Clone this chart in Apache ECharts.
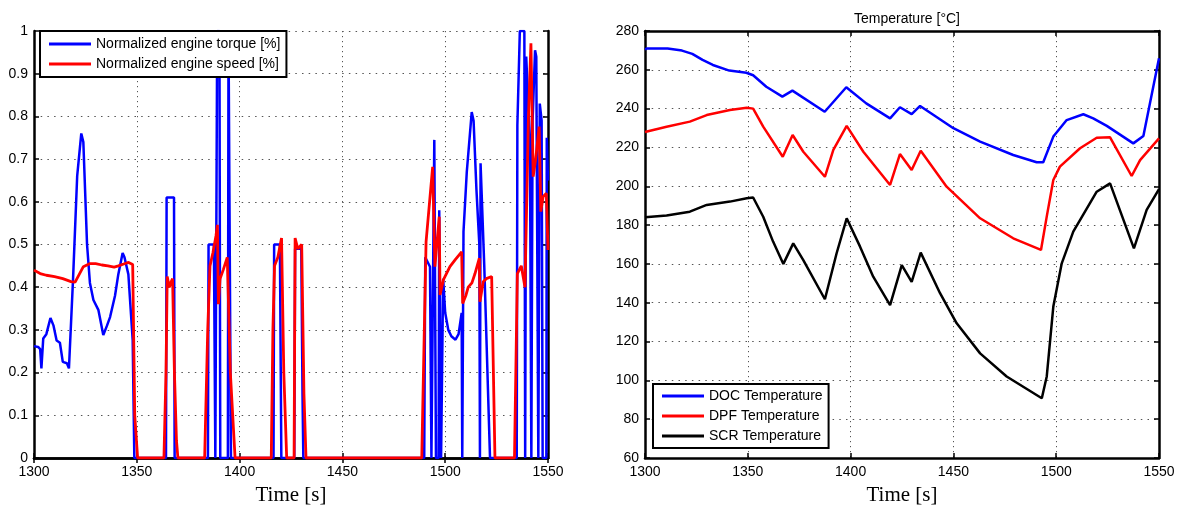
<!DOCTYPE html>
<html>
<head>
<meta charset="utf-8">
<script src="https://cdn.jsdelivr.net/npm/echarts@6/dist/echarts.min.js"></script>
<style>html,body{margin:0;padding:0;background:#fff}#c{width:1183px;height:508px}</style>
</head>
<body>
<div id="c"></div>
<script>
// ---- Left chart data ----
const torqueT = [1300,1302,1303,1303.6,1304.5,1306,1308,1309.5,1311,1312.6,1314,1316,1317,1319,1321,1323,1324,1325.8,1327.2,1328.9,1331.3,1333.7,1335.5,1337,1339.4,1341,1343.1,1344,1345.9,1348,1348.8,
 1364.2,1364.5,1368.1,1368.4,1384.6,1384.9,1387.5,1388.2,1388.7,1389.1,1390.2,1390.6,1394.3,1394.6,1395.4,1395.8,
 1416.5,1416.8,1419.6,1420.3,1426.6,1427,1430,1430.6,1431,
 1489.8,1490.3,1491.2,1492.6,1493.3,1494.2,1494.7,1495.5,1496.8,1497.1,1498,1498.6,1499,1500,1501.5,1503,1505,1506.5,1508,1508.3,1508.6,1508.9,1510.5,1512.9,1513.8,1515.2,1516.6,1516.9,1517.2,1519,1521.8,
 1534.8,1535.1,1536.3,1538.5,1538.9,1539.4,1540.5,1541.2,1541.9,1542.5,1543.7,1544.3,1545.3,1546,1546.9,1547.4,1549.2,1549.4,1550];
const torqueV = [0.262,0.26,0.255,0.21,0.28,0.29,0.328,0.31,0.275,0.27,0.225,0.222,0.21,0.42,0.66,0.76,0.74,0.5,0.41,0.37,0.347,0.288,0.31,0.33,0.38,0.43,0.48,0.47,0.43,0.276,0,
 0,0.61,0.61,0,0,0.5,0.5,0,0,1.0,1.0,0,0,1.0,1.0,0,
 0,0.5,0.5,0,0,0.49,0.49,0.15,0,
 0,0.47,0.47,0.448,0,0,0.745,0,0,0.58,0,0,0.42,0.34,0.3,0.285,0.277,0.29,0.34,0,0,0.53,0.67,0.81,0.79,0.628,0.5,0,0.69,0.45,0,
 0,0.78,1.0,1.0,0,0.94,0.82,0.75,0,0.79,0.955,0.94,0,0.83,0.79,0,0,0.75,0.65];
const speedT = [1300,1303,1306,1310,1314,1318,1320,1322,1324,1327,1330,1333,1336,1339,1341,1344,1346,1348,1349,1350.4,
 1363.2,1364.2,1364.8,1365.8,1366.5,1367.4,1368.3,1369.3,1370,
 1383,1384.5,1385.6,1387,1388.5,1389.2,1389.7,1390.5,1392,1394,1395.5,1397.8,
 1415.4,1416.2,1417,1418.6,1420.4,1421.5,1422.9,1426.5,1427,1428.3,1430.2,1431.3,1432.3,
 1488.6,1490.7,1493.9,1495,1497.1,1497.5,1499.1,1502.3,1505,1508,1508.5,1510,1511.2,1513,1514.5,1516.6,1516.9,1518.5,1520,1522.6,1524.2,
 1533.7,1535.1,1537,1538.8,1540.5,1541.7,1542.8,1544,1545.7,1546.5,1547.6,1549.2,1550];
const speedV = [0.44,0.432,0.428,0.425,0.42,0.413,0.412,0.43,0.448,0.455,0.455,0.452,0.45,0.447,0.45,0.455,0.458,0.453,0.1,0,
 0,0.2,0.425,0.4,0.41,0.42,0.2,0.04,0,
 0,0.3,0.45,0.48,0.52,0.546,0.36,0.42,0.44,0.47,0.2,0,
 0,0.3,0.45,0.47,0.515,0.2,0,0,0.515,0.49,0.5,0.15,0,
 0,0.507,0.682,0.448,0.565,0.382,0.417,0.448,0.465,0.483,0.362,0.38,0.40,0.41,0.432,0.468,0.366,0.413,0.42,0.425,0,
 0,0.432,0.45,0.40,0.8,0.971,0.659,0.7,0.776,0.577,0.612,0.62,0.487];

// ---- Right chart data ----
const docT = [1300,1301,1311,1318,1323,1328,1333,1341,1349.3,1352.6,1359,1366.8,1371.7,1387.4,1397.9,1407.6,1419.2,1424,1429.7,1433.8,1450,1463,1479.1,1490.5,1493.7,1498.6,1505.1,1513.2,1518,1524.6,1537.5,1542.4,1550];
const docV = [270.5,271,271,269.9,268.2,265.1,262.5,259.6,258.5,257.2,251.3,246.2,249.3,238.4,251.0,242.7,235,240.7,237.2,241.4,229.9,223,216.1,212.4,212.4,225.6,234.1,237.1,235,231.1,222.1,225.9,266];
const dpfT = [1300,1310.5,1321.8,1330,1341.3,1349.5,1352.6,1357.5,1367,1371.8,1377,1387.5,1391.6,1398.1,1406.2,1419.2,1424,1429.7,1434.1,1446.7,1463,1479.1,1492.6,1495.5,1498.6,1501.8,1511.6,1519.7,1526.2,1536.7,1540.8,1550];
const dpfV = [228,230.7,233.3,236.7,239.3,240.5,240,230.7,215.2,226.4,217.8,204.9,218.7,231.1,217.8,200.7,216.6,208.4,218.3,199.8,183.5,173.2,167.2,185,203.2,210.1,219.6,225.0,225.2,205.3,213.5,224.7];
const scrT = [1300,1310.5,1321.8,1330,1341.3,1349.5,1352.6,1357.5,1362.3,1367.3,1372.1,1377,1387.5,1393.2,1398.1,1404.6,1411,1419.2,1424.9,1429.7,1434.1,1443.5,1451.6,1463,1475.9,1493,1495.4,1498.6,1502.7,1508.3,1519.7,1526.2,1537.8,1544,1550];
const scrV = [184,184.9,186.9,190.4,192.1,193.8,194.2,184.3,171.5,160,170.6,162,141.8,165.5,183.5,168.9,153.4,138.8,159.4,150.8,165.8,144.9,129.4,113.9,102,90.8,102,138,160.3,176.6,197.2,201.5,168,187.8,198.5];

const xTicks = {min: 1300, max: 1550, interval: 50};
const leftY = {min: 0, max: 1, interval: 0.1};
const rightY = {min: 60, max: 280, interval: 20};

const zip = (a, b) => a.map((t, i) => [t, b[i]]);

const SANS = 'Liberation Sans';
const labelStyle = {fontSize: 14, fontFamily: SANS, color: '#000'};
const hDots = {color: '#555', width: 1, type: [1.5, 5.2]};
const vDots = {color: '#555', width: 1, type: [1.2, 3.8]};
const fmt = v => String(parseFloat(Number(v).toFixed(2)));

function xAxes(gi) {
  return [{
    type: 'value', gridIndex: gi, position: 'bottom', ...xTicks,
    axisLine: {lineStyle: {color: '#000', width: 2.5}},
    axisTick: {inside: true, length: 5, lineStyle: {color: '#000', width: 1.5}},
    axisLabel: {...labelStyle, margin: 7, formatter: fmt},
    splitLine: {show: true, lineStyle: vDots},
    name: 'Time [s]', nameLocation: 'middle', nameGap: 27,
    nameTextStyle: {fontFamily: 'Liberation Serif', fontSize: 21, color: '#000'}
  }, {
    type: 'value', gridIndex: gi, position: 'top', ...xTicks,
    axisLine: {lineStyle: {color: '#000', width: 2.5}},
    axisTick: {inside: true, length: 5, lineStyle: {color: '#000', width: 1.5}},
    axisLabel: {show: false}, splitLine: {show: false}
  }];
}
function yAxes(gi, rng) {
  return [{
    type: 'value', gridIndex: gi, position: 'left', ...rng,
    axisLine: {show: true, lineStyle: {color: '#000', width: 2.5}},
    axisTick: {show: true, inside: true, length: 5, lineStyle: {color: '#000', width: 1.5}},
    axisLabel: {...labelStyle, margin: 6, formatter: fmt},
    splitLine: {show: true, lineStyle: hDots}
  }, {
    type: 'value', gridIndex: gi, position: 'right', ...rng,
    axisLine: {show: true, lineStyle: {color: '#000', width: 2.5}},
    axisTick: {show: true, inside: true, length: 5, lineStyle: {color: '#000', width: 1.5}},
    axisLabel: {show: false}, splitLine: {show: false}
  }];
}

function line(name, data, color, xi, yi, w) {
  return {name, type: 'line', data, xAxisIndex: xi, yAxisIndex: yi,
    showSymbol: false, symbol: 'none', lineStyle: {color, width: w}, itemStyle: {color},
    animation: false, clip: true};
}

const legendCommon = {
  orient: 'vertical', icon: 'rect', itemWidth: 42, itemHeight: 3, itemGap: 6,
  borderColor: '#000', borderWidth: 2, backgroundColor: '#fff', borderRadius: 0,
  textStyle: {fontSize: 14, fontFamily: SANS, color: '#000'}, selectedMode: false
};

const chart = echarts.init(document.getElementById('c'), null, {renderer: 'canvas'});
chart.setOption({
  backgroundColor: '#fff',
  animation: false,
  title: {text: 'Temperature [°C]', left: 902, top: 7, textAlign: 'center',
    textStyle: {fontSize: 14, fontWeight: 'normal', fontFamily: SANS, color: '#000'}},
  grid: [
    {left: 34, top: 31, width: 514, height: 427, outerBoundsMode: 'none', containLabel: false},
    {left: 645, top: 31, width: 514, height: 427, outerBoundsMode: 'none', containLabel: false}
  ],
  xAxis: [...xAxes(0), ...xAxes(1)],
  yAxis: [...yAxes(0, leftY), ...yAxes(1, rightY)],
  legend: [
    {...legendCommon, left: 40, top: 31, padding: [6, 6, 6, 9],
      data: ['Normalized engine torque [%]', 'Normalized engine speed [%]']},
    {...legendCommon, left: 653, top: 384, padding: [5, 6, 5, 9],
      data: ['DOC Temperature', 'DPF Temperature', 'SCR Temperature']}
  ],
  series: [
    line('Normalized engine torque [%]', zip(torqueT, torqueV), '#0000ff', 0, 0, 2.5),
    line('Normalized engine speed [%]', zip(speedT, speedV), '#ff0000', 0, 0, 2.8),
    line('DOC Temperature', zip(docT, docV), '#0000ff', 2, 2, 2.5),
    line('DPF Temperature', zip(dpfT, dpfV), '#ff0000', 2, 2, 2.5),
    line('SCR Temperature', zip(scrT, scrV), '#000000', 2, 2, 2.5)
  ]
});
</script>
</body>
</html>
